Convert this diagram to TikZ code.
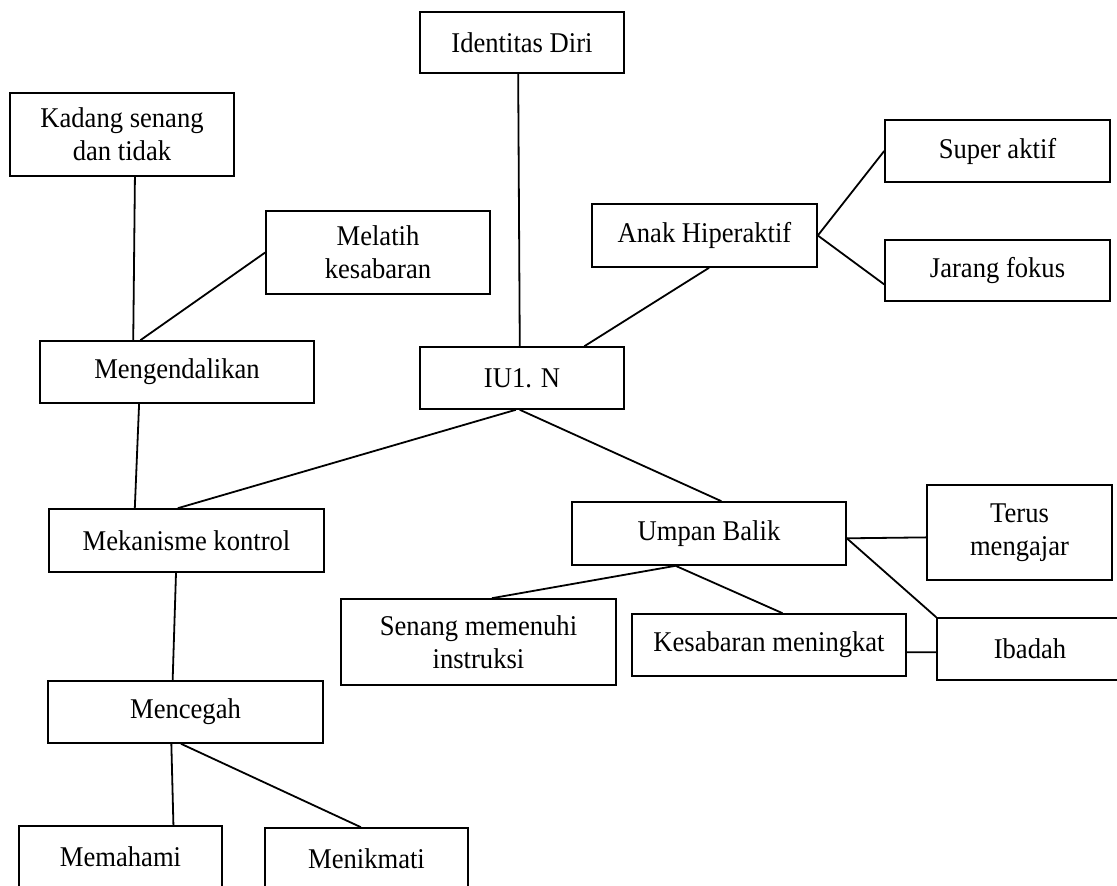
\documentclass[tikz,border=0pt]{standalone}
\usepackage{fontspec}
\setmainfont{Liberation Serif}[FakeStretch=0.93]
\usepackage{xcolor}

\begin{document}
\begin{tikzpicture}[x=0.5pt, y=-0.5pt,
	box/.style={rectangle, draw, line width=0.8pt, inner sep=0pt, align=center, font=\fontsize{14.3pt}{16.5pt}\selectfont},
	every edge/.style={draw, line width=0.9pt}]
					\useasboundingbox (0,0) rectangle (1117,886);

					\node[box, minimum width=102pt, minimum height=30.5pt] (ident) at (522,42.5) {Identitas Diri};
					\node[box, minimum width=112pt, minimum height=41.5pt] (kadang) at (122,134.5) {Kadang senang\\dan tidak};
					\node[box, minimum width=112pt, minimum height=41.5pt] (melatih) at (378,252.5) {Melatih\\kesabaran};
					\node[box, minimum width=137pt, minimum height=31pt] (kendali) at (177,372) {Mengendalikan};
					\node[box, minimum width=102pt, minimum height=31pt] (iun) at (522,378) {IU1. N};
					\node[box, minimum width=112.5pt, minimum height=31.5pt] (anak) at (704.5,235.5) {Anak Hiperaktif};
					\node[box, minimum width=112.5pt, minimum height=31pt] (super) at (997.5,151) {Super aktif};
					\node[box, minimum width=112.5pt, minimum height=30.5pt] (jarang) at (997.5,270.5) {Jarang fokus};
					\node[box, minimum width=137.5pt, minimum height=31.5pt] (mekanisme) at (186.5,540.5) {Mekanisme kontrol};
					\node[box, minimum width=137.5pt, minimum height=31pt] (cegah) at (185.5,712) {Mencegah};
					\node[box, minimum width=101.5pt, minimum height=31pt] (paham) at (120.5,857) {Memahami};
					\node[box, minimum width=101.5pt, minimum height=31pt] (nikmat) at (366.5,859) {Menikmati};
					\node[box, minimum width=137pt, minimum height=31.5pt] (umpan) at (709,533.5) {Umpan Balik};
					\node[box, minimum width=92.5pt, minimum height=47.5pt] (terus) at (1019.5,532.5) {Terus\\mengajar};
					\node[box, minimum width=137.5pt, minimum height=43pt] (senang) at (478.5,642) {Senang memenuhi\\instruksi};
					\node[box, minimum width=137pt, minimum height=31pt] (sabar) at (769,645) {Kesabaran meningkat};
					\node[box, minimum width=93pt, minimum height=31pt] (ibadah) at (1030,649) {Ibadah};

					\path
					(ident.-97) edge (iun.94)
					(kadang.-73) edge (kendali.144)
					(melatih.180) edge (kendali.139)
					(anak.-82) edge (iun.27)
					(anak.east) edge (super.west)
					(anak.east) edge (jarang.-173)

					(kendali.-140) edge (mekanisme.148)
					(iun.-101) edge (mekanisme.105)
					(iun.-94) edge (umpan.69)
					(mekanisme.-108) edge (cegah.112)
					(cegah.-114) edge (paham.31)
					(cegah.-98) edge (nikmat.100)

					(umpan.-136) edge (senang.73)
					(umpan.-136) edge (sabar.67)
					(umpan.-2) edge (terus.-177)
					(umpan.-2) edge (ibadah.north west)
					(sabar.-3) edge (ibadah.-178)
					;
				\end{tikzpicture}
\end{document}
